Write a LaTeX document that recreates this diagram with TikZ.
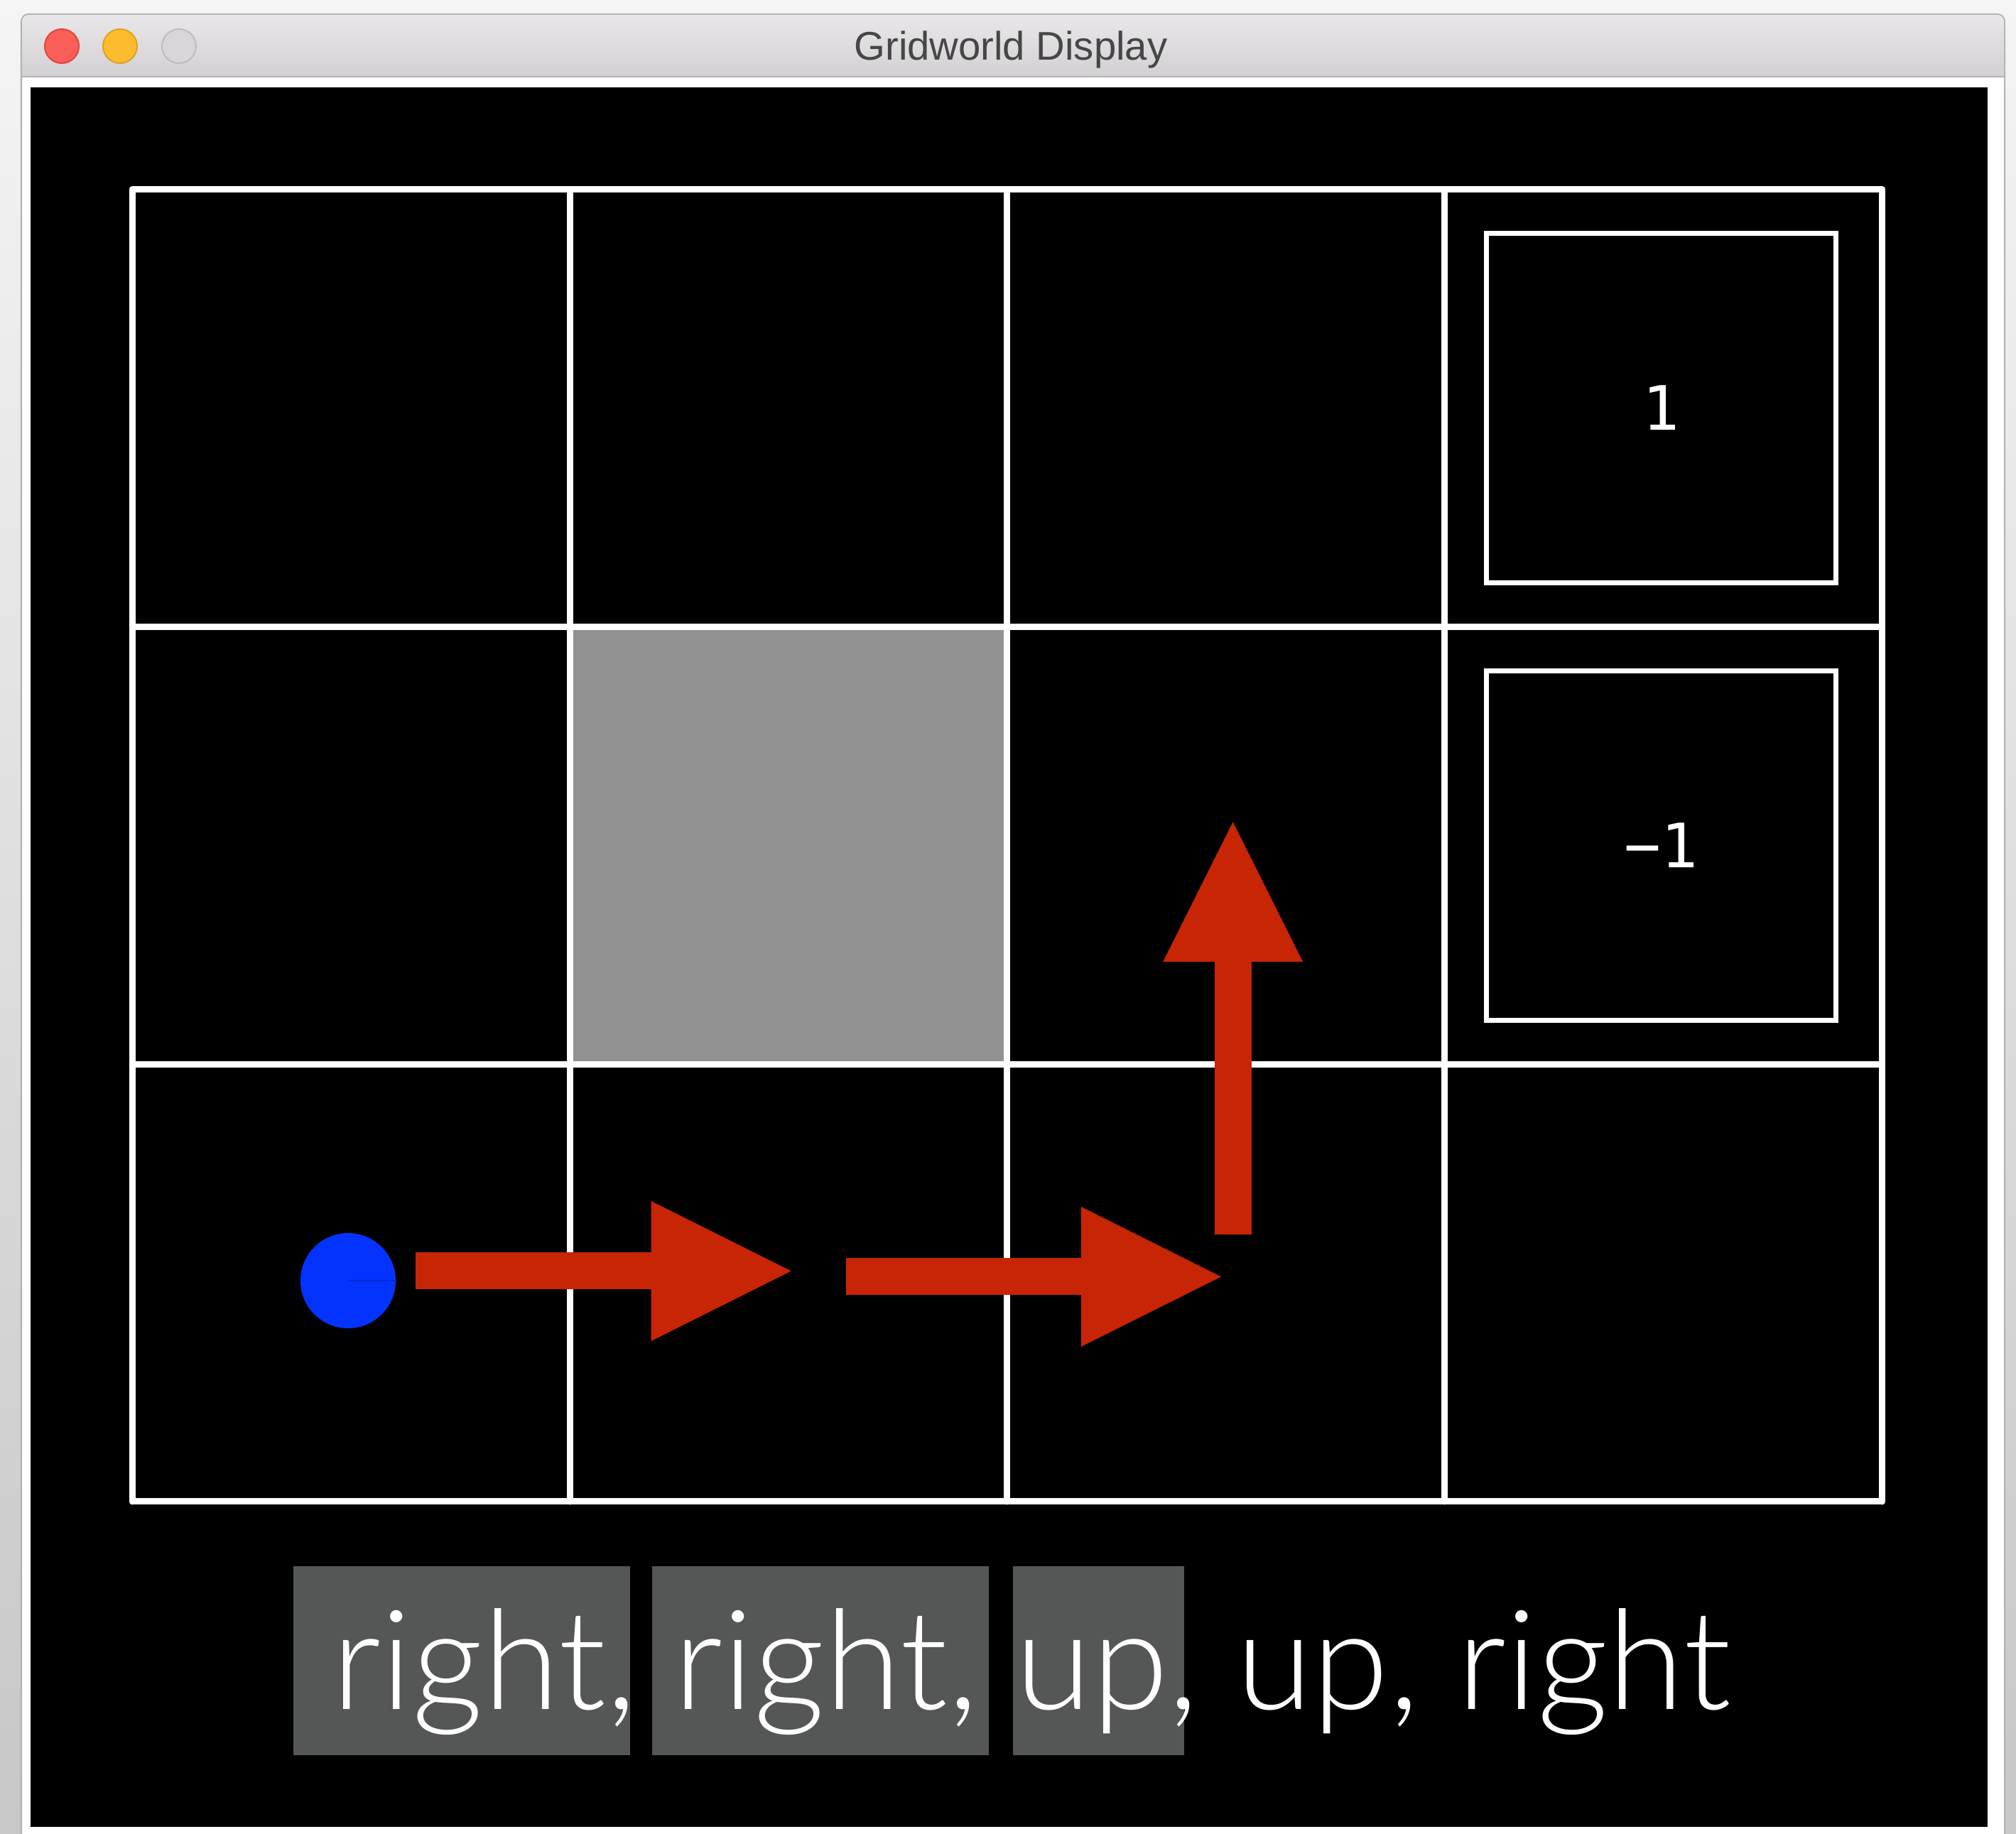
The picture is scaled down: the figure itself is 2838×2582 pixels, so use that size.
\documentclass[tikz,border=0pt]{standalone}
\usepackage{fontspec}
\usepackage{tikz}
\usetikzlibrary{arrows.meta}
\setmainfont{Liberation Sans}
\newfontfamily\monofont{DejaVu Sans Mono}
\newfontfamily\thinfont{Lato Light}

\definecolor{movered}{RGB}{199,37,6}
\definecolor{agentblue}{RGB}{4,51,255}
\definecolor{wallgray}{RGB}{145,145,145}
\definecolor{markgray}{RGB}{85,87,86}
\definecolor{barlight}{RGB}{233,231,233}
\definecolor{bardark}{RGB}{210,208,210}
\definecolor{titlegray}{RGB}{70,70,70}

\begin{document}
\begin{tikzpicture}[x=0.01cm, y=0.01cm,
    gridline/.style={draw=white, line width=0.09cm, line cap=round},
    termbox/.style={draw=white, line width=0.07cm, minimum size=4.92cm, inner sep=0pt,
      text=white, font=\monofont\fontsize{24.5pt}{28pt}\selectfont},
    actarrow/.style={draw=movered, line width=0.52cm,
      -{Triangle[length=1.97cm, width=1.97cm, line width=0pt]}},
    button/.style={circle, minimum size=0.48cm, inner sep=0pt, line width=0.02cm}]
  \useasboundingbox (0,0) rectangle (2838,2582);

  % desktop and shadow
  \fill[black!4] (0,0) rectangle (2838,2582);
  \shade[top color=black!4, bottom color=black!22] (0,0) rectangle (30,2582);
  \shade[top color=black!4, bottom color=black!22] (2822,0) rectangle (2838,2582);

  % window
  \fill[white, draw=black!30, line width=0.02cm, rounded corners=0.1cm] (30,-40) rectangle (2822,2562);
  \shade[top color=barlight, bottom color=bardark] (31,2474) -- (31,2551)
    arc[start angle=180, end angle=90, radius=10] -- (2811,2561)
    arc[start angle=90, end angle=0, radius=10] -- (2821,2474) -- cycle;
  \draw[black!30, line width=0.02cm] (31,2474) -- (2821,2474);
  \fill[black] (43,10) rectangle (2798,2459);

  % title bar
  \node[button, fill={rgb,255:red,252;green,95;blue,87}, draw={rgb,255:red,224;green,68;blue,62}] (close) at (87,2517) {};
  \node[button, fill={rgb,255:red,253;green,188;blue,46}, draw={rgb,255:red,222;green,161;blue,35}] (hide) at (169,2517) {};
  \node[button, fill={rgb,255:red,216;green,214;blue,216}, draw={rgb,255:red,190;green,188;blue,190}] (zoom) at (252,2517) {};
  \node[anchor=base, inner sep=0pt, text=titlegray, font=\fontsize{16pt}{19pt}\selectfont] (title) at (1423,2497) {Gridworld Display};

  \begin{scope}[shift={(186.4,468)}, x=6.154cm, y=6.154cm]
    % wall
    \fill[wallgray] (1,1) rectangle (2,2);

    % grid
    \foreach \i in {0,...,4}
      \draw[gridline] (\i,0) -- (\i,3);
    \foreach \j in {0,...,3}
      \draw[gridline] (0,\j) -- (4,\j);

    % exits
    \node[termbox] (win) at (3.495,2.5) {1};
    \node[termbox] (lose) at (3.495,1.5) {−1};

    % agent
    \node[circle, fill=agentblue, minimum size=1.34cm, inner sep=0pt] (agent) at (0.493,0.505) {};
    \draw[agentblue!80!black, line width=0.025cm] (agent.center) -- (agent.east);

    % moves
    \coordinate (m1a) at (0.648,0.527);
    \coordinate (m1b) at (1.506,0.527);
    \coordinate (m2a) at (1.632,0.514);
    \coordinate (m2b) at (2.489,0.514);
    \coordinate (m3a) at (2.516,0.611);
    \coordinate (m3b) at (2.516,1.554);
    \foreach \a/\b in {m1a/m1b, m2a/m2b, m3a/m3b}
      \draw[actarrow] (\a) -- (\b);
  \end{scope}

  % action sequence
  \foreach \l/\r in {413/887, 918/1392, 1426/1667}
    \fill[markgray] (\l,111) rectangle (\r,377);
  \node[anchor=base west, inner sep=0pt, text=white, font=\thinfont\fontsize{55.5pt}{60pt}\selectfont] (acts) at (467,175) {right, right, up, up, right};
\end{tikzpicture}
\end{document}
